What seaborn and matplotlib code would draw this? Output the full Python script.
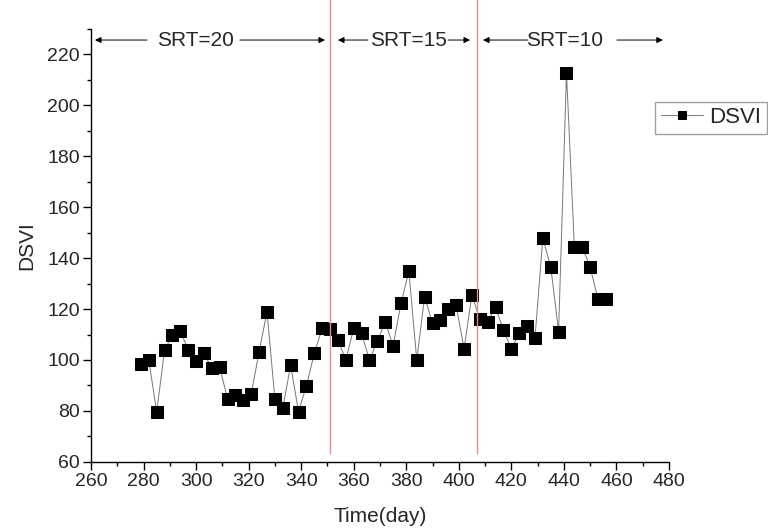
import numpy as np
import pandas as pd
import matplotlib
matplotlib.use('Agg')
import matplotlib.pyplot as plt
from matplotlib.ticker import MultipleLocator
import seaborn as sns

# values
DAYS = [279, 282, 285, 288, 291, 294, 297, 300, 303, 306,
        309, 312, 315, 318, 321, 324, 327, 330, 333, 336,
        339, 342, 345, 348, 351, 354, 357, 360, 363, 366,
        369, 372, 375, 378, 381, 384, 387, 390, 393, 396,
        399, 402, 405, 408, 411, 414, 417, 420, 423, 426,
        429, 432, 435, 438, 441, 444, 447, 450, 453, 456]
DSVI = [98.4, 100.0, 79.5, 103.9, 109.8, 111.5, 103.9, 99.7, 102.6, 96.7,
        97.1, 84.7, 86.3, 84.3, 86.7, 103.3, 118.9, 84.8, 81.0, 98.0,
        79.7, 89.9, 102.6, 112.5, 112.0, 107.8, 100.0, 112.4, 110.4, 100.0,
        107.4, 114.9, 105.5, 122.2, 134.8, 100.0, 124.8, 114.4, 115.7, 119.9,
        121.5, 104.3, 125.5, 116.0, 114.9, 120.8, 111.8, 104.4, 110.5, 113.3,
        108.6, 147.7, 136.6, 111.1, 212.7, 144.4, 144.4, 136.4, 123.9, 123.9]

PHASE_BOUNDS = [351, 407]
PHASE_LABELS = ['SRT=20', 'SRT=15', 'SRT=10']
PHASE_CENTERS = [299.6, 381, 440.4]
# (inner start, outer end) of left / right arrows for each phase label
ARROWS_LEFT = [(281.3, 261.5), (365.4, 354.0), (426.3, 409.2)]
ARROWS_RIGHT = [(316.7, 349.1), (395.9, 404.3), (460.2, 477.7)]

sns.set_style('ticks')
plt.rcParams['font.family'] = ['Liberation Sans', 'DejaVu Sans']

df = pd.DataFrame({'Time(day)': DAYS, 'DSVI': DSVI})

fig = plt.figure(figsize=(7.68, 5.29), dpi=100)
ax = fig.add_axes([0.1185, 0.1267, 0.7525, 0.8193])

sns.lineplot(data=df, x='Time(day)', y='DSVI', ax=ax, color='#777777', lw=0.7,
             marker='s', markersize=8.8, markerfacecolor='black',
             markeredgecolor='black', label='DSVI', legend=False)

ax.set_xlim(260, 480)
ax.set_ylim(60, 230)
ax.xaxis.set_major_locator(MultipleLocator(20))
ax.xaxis.set_minor_locator(MultipleLocator(10))
ax.yaxis.set_major_locator(MultipleLocator(20))
ax.yaxis.set_minor_locator(MultipleLocator(10))
ax.set_yticks(np.arange(60, 221, 20))
ax.tick_params(which='major', direction='out', length=6, width=1, labelsize=14,
               color='black', pad=2)
ax.tick_params(which='minor', direction='out', length=3, width=1, color='black')
for s in ('top', 'right'):
    ax.spines[s].set_visible(False)
for s in ('left', 'bottom'):
    ax.spines[s].set_color('black')
    ax.spines[s].set_linewidth(1)

ax.set_xlabel('Time(day)', fontsize=15, labelpad=12)
ax.set_ylabel('DSVI', fontsize=15, labelpad=8)

for b in PHASE_BOUNDS:
    ax.axvline(b, ymin=0.02, ymax=1.07, color='#e88a8a', lw=1, clip_on=False)

y_arrow = 225.5
for label, xc, (l0, l1), (r0, r1) in zip(PHASE_LABELS, PHASE_CENTERS, ARROWS_LEFT, ARROWS_RIGHT):
    ax.text(xc, y_arrow, label, ha='center', va='center', fontsize=15)
    for x0, x1 in ((l0, l1), (r0, r1)):
        ax.annotate('', xy=(x1, y_arrow), xytext=(x0, y_arrow),
                    arrowprops=dict(arrowstyle='-|>', color='black', lw=0.7,
                                    mutation_scale=9, shrinkA=0, shrinkB=0),
                    annotation_clip=False)

handles, labels = ax.get_legend_handles_labels()
leg = fig.legend(handles, labels, loc='upper left', bbox_to_anchor=(0.853, 0.808),
                 fontsize=16, frameon=True, fancybox=False, handlelength=1.9,
                 handletextpad=0.3, borderpad=0.25, borderaxespad=0,
                 markerscale=0.7)
leg.get_frame().set_edgecolor('#888888')
leg.get_frame().set_linewidth(1)

fig.savefig('out.png', dpi=100)
